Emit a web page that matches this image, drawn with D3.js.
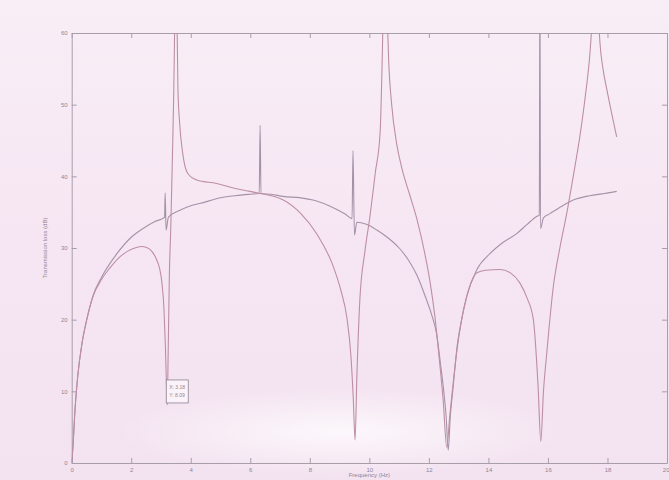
<!DOCTYPE html>
<html>
<head>
<meta charset="utf-8">
<script src="https://cdn.jsdelivr.net/npm/d3@7/dist/d3.min.js"></script>
<style>
html, body { margin: 0; padding: 0; background: #f4e3f0; }
svg { display: block; }
.axis text { font-family: "Liberation Sans", Arial, sans-serif; font-size: 6px; fill: #8f8594; }
.axis path, .axis line { stroke: #a89eaa; stroke-width: 1; }
.label { font-family: "Liberation Sans", Arial, sans-serif; font-size: 6px; fill: #8f8594; }
</style>
</head>
<body>
<svg id="chart" width="669" height="480"></svg>
<script>
// tick values
var xTicks = [0, 2, 4, 6, 8, 10, 12, 14, 16, 18, 20];
var yTicks = [0, 10, 20, 30, 40, 50, 60];

// smooth expansion chamber curve, [frequency, TL dB]
var lossA = [
    [0, 0], [0.05, 2.8], [0.1, 6.7], [0.2, 12], [0.35, 16.8], [0.5, 19.9], [0.72, 23.4],
    [1, 25.9], [1.5, 29.1], [2, 31.5], [2.5, 33], [2.8, 33.7], [3.05, 34.1], [3.12, 34.3],
    [3.14, 37.7], [3.17, 32.5], [3.25, 34.3], [3.6, 35.2], [4, 35.9], [4.3, 36.2], [5, 37],
    [5.5, 37.3], [6, 37.5], [6.3, 37.6], [6.33, 47.1], [6.36, 37.6], [6.7, 37.5], [7.1, 37.2],
    [7.7, 37], [8.2, 36.6], [8.7, 35.8], [9.2, 34.7], [9.42, 34.1], [9.45, 43.6], [9.5, 31.8],
    [9.58, 33.6], [9.9, 33.3], [10.25, 32.5], [10.6, 31.5], [11, 30], [11.3, 28.4], [11.6, 26.2],
    [11.9, 23], [12.1, 20.6], [12.26, 18], [12.4, 13.5], [12.5, 10], [12.58, 6.5], [12.65, 1.8],
    [12.72, 6.5], [12.8, 10], [12.88, 13.5], [12.95, 16.3], [13.1, 20], [13.27, 23.2], [13.6, 26.9],
    [14.05, 29.2], [14.5, 30.8], [14.95, 32], [15.3, 33.3], [15.62, 34.4], [15.71, 34.6],
    [15.73, 70], [15.75, 32.7], [15.85, 34.2], [16.07, 34.8], [16.45, 35.8], [16.85, 36.7],
    [17.4, 37.3], [17.9, 37.6], [18.31, 37.9]
];

// curve with resonances, [frequency, TL dB]; null marks the poles
var lossB = [
    [0, 0], [0.05, 2.8], [0.1, 6.7], [0.2, 12], [0.35, 16.8], [0.5, 19.9], [0.72, 23.3],
    [1, 25.6], [1.3, 27.3], [1.6, 28.7], [1.9, 29.6], [2.2, 30.1], [2.35, 30.2], [2.5, 30.1],
    [2.7, 29.5], [2.85, 28.4], [2.95, 27.2], [3.03, 25.2], [3.1, 21.5], [3.15, 16], [3.19, 10],
    [3.21, 8.1], [3.24, 15], [3.28, 26], [3.33, 33], [3.38, 42], [3.43, 52], [3.47, 64],
    [3.5, null],
    [3.53, 64], [3.57, 52], [3.62, 47.8], [3.73, 43.2], [3.9, 40.4], [4.2, 39.5], [4.87, 39],
    [5.5, 38.3], [5.99, 37.9], [6.33, 37.6], [6.7, 37.3], [7.11, 36.7], [7.7, 34.8], [8.23, 32],
    [8.79, 27.4], [9.05, 24], [9.24, 20.4], [9.38, 15], [9.46, 9], [9.52, 3.2], [9.58, 12],
    [9.68, 22.7], [9.85, 29.5], [10.02, 34.4], [10.2, 40.5], [10.36, 46], [10.47, 64],
    [10.53, null],
    [10.59, 64], [10.65, 56], [10.75, 50], [10.92, 44.5], [11.1, 41], [11.35, 37.5], [11.6, 34],
    [11.85, 29.5], [12.05, 25], [12.2, 20.5], [12.35, 14.5], [12.48, 8.8], [12.6, 2.2],
    [12.7, 6.5], [12.8, 10.5], [12.95, 16], [13.1, 20],
    [13.27, 23.2], [13.45, 25.5], [13.6, 26.5], [13.9, 26.9], [14.39, 27], [14.75, 26.5],
    [15.06, 25.1], [15.3, 23], [15.51, 20], [15.67, 10.6], [15.76, 3], [15.85, 10], [15.96, 15.3],
    [16.18, 24.6], [16.4, 30], [16.63, 34.8], [16.85, 40], [17.07, 45.5], [17.25, 51], [17.41, 57.1],
    [17.52, 64],
    [17.6, null],
    [17.68, 64], [17.75, 58.5], [17.85, 55], [17.97, 52.3], [18.15, 48.6], [18.31, 45.5]
];

// data tip on the first dip
var tipPoint = [3.21, 8.1];
var tipLines = ["X: 3.18", "Y: 8.09"];

var svg = d3.select("#chart");
var width = +svg.attr("width");
var height = +svg.attr("height");

var plotLeft = 71.7, plotRight = 667, plotTop = 33, plotBottom = 463;

var x = d3.scaleLinear().domain([0, 20]).range([plotLeft, plotRight]);
var y = d3.scaleLinear().domain([0, 60]).range([plotBottom, plotTop]);

// photo-like background with a bit of glare
var defs = svg.append("defs");
var bg = defs.append("linearGradient").attr("id", "bg")
    .attr("x1", 0).attr("y1", 0).attr("x2", 0).attr("y2", 1);
bg.append("stop").attr("offset", 0).attr("stop-color", "#f8eef6");
bg.append("stop").attr("offset", 0.5).attr("stop-color", "#f6e6f3");
bg.append("stop").attr("offset", 1).attr("stop-color", "#f3e2f0");

var glare = defs.append("radialGradient").attr("id", "glare");
glare.append("stop").attr("offset", 0).attr("stop-color", "#ffffff").attr("stop-opacity", 0.75);
glare.append("stop").attr("offset", 1).attr("stop-color", "#ffffff").attr("stop-opacity", 0);

defs.append("clipPath").attr("id", "plotclip")
    .append("rect")
    .attr("x", plotLeft).attr("y", plotTop)
    .attr("width", plotRight - plotLeft).attr("height", plotBottom - plotTop);

svg.append("rect").attr("width", width).attr("height", height).attr("fill", "url(#bg)");
svg.append("ellipse")
    .attr("cx", 340).attr("cy", 432)
    .attr("rx", 230).attr("ry", 45)
    .attr("fill", "url(#glare)");

// axes with inward ticks on all four sides
var xAxis = svg.append("g").attr("class", "axis")
    .attr("transform", "translate(0," + plotBottom + ")")
    .call(d3.axisBottom(x).tickValues(xTicks).tickSizeInner(-5).tickSizeOuter(0).tickPadding(5));

// keep the last label inside the page
xAxis.selectAll(".tick text")
    .filter(function(d) { return d === 20; })
    .attr("text-anchor", "end")
    .attr("dx", 2);

svg.append("g").attr("class", "axis")
    .attr("transform", "translate(0," + plotTop + ")")
    .call(d3.axisTop(x).tickValues(xTicks).tickSizeInner(-5).tickSizeOuter(0).tickFormat(""));

svg.append("g").attr("class", "axis")
    .attr("transform", "translate(" + plotLeft + ",0)")
    .call(d3.axisLeft(y).tickValues(yTicks).tickSizeInner(-5).tickSizeOuter(0).tickPadding(4));

svg.append("g").attr("class", "axis")
    .attr("transform", "translate(" + plotRight + ",0)")
    .call(d3.axisRight(y).tickValues(yTicks).tickSizeInner(-5).tickSizeOuter(0).tickFormat(""));

var line = d3.line()
    .defined(function(d) { return d[1] !== null; })
    .curve(d3.curveMonotoneX)
    .x(function(d) { return x(d[0]); })
    .y(function(d) { return y(d[1]); });

var plot = svg.append("g").attr("clip-path", "url(#plotclip)");

plot.append("path")
    .datum(lossA)
    .attr("fill", "none")
    .attr("stroke", "#a592a8")
    .attr("stroke-width", 1.1)
    .attr("d", line);

plot.append("path")
    .datum(lossB)
    .attr("fill", "none")
    .attr("stroke", "#bd8ea4")
    .attr("stroke-width", 1.1)
    .attr("d", line);

// data tip box
var tx = x(tipPoint[0]);
var ty = y(tipPoint[1]);
var tip = svg.append("g").attr("transform", "translate(" + (tx - 1) + "," + (ty - 25) + ")");
tip.append("rect")
    .attr("width", 22).attr("height", 23)
    .attr("fill", "#fbf3f9")
    .attr("stroke", "#8e8492")
    .attr("stroke-width", 0.8);
tip.selectAll("text").data(tipLines).enter().append("text")
    .attr("class", "label")
    .attr("x", 3)
    .attr("y", function(d, i) { return 9 + i * 8; })
    .style("font-size", "5px")
    .text(function(d) { return d; });

// axis labels
svg.append("text")
    .attr("class", "label")
    .attr("text-anchor", "middle")
    .attr("x", (plotLeft + plotRight) / 2)
    .attr("y", 477)
    .text("Frequency (Hz)");

svg.append("text")
    .attr("class", "label")
    .attr("text-anchor", "middle")
    .attr("transform", "translate(47," + ((plotTop + plotBottom) / 2) + ") rotate(-90)")
    .text("Transmission loss (dB)");
</script>
</body>
</html>
